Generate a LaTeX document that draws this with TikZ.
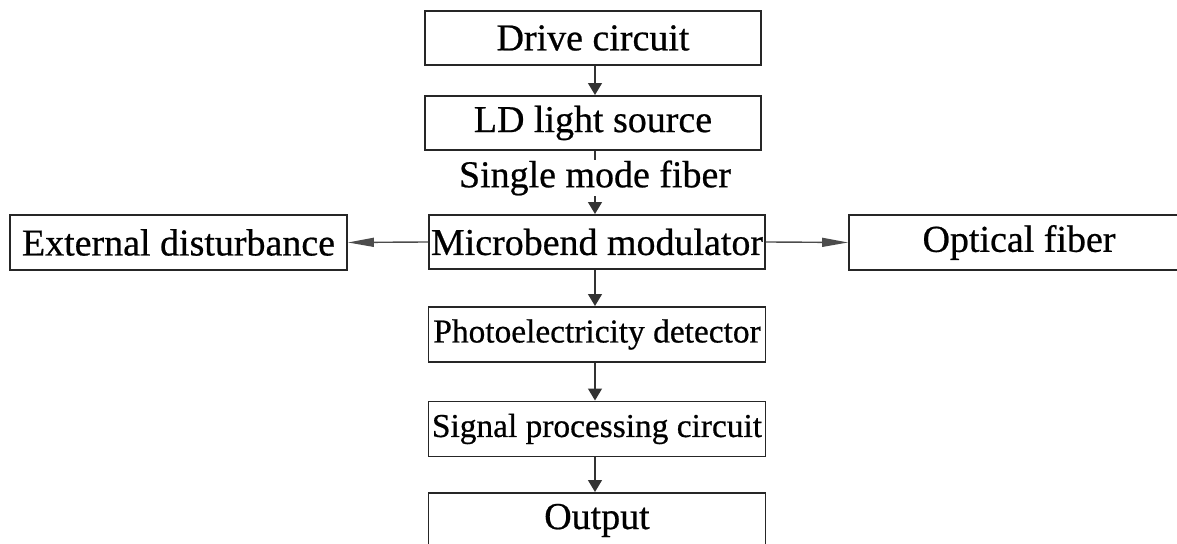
\documentclass[tikz,border=0pt]{standalone}
\usepackage{fontspec}
\setmainfont{Liberation Serif}
\newfontfamily\boxfont{Liberation Serif}[FakeBold=0.6]
\usetikzlibrary{positioning}
\usetikzlibrary{arrows.meta}

\tikzset{
    block/.style={draw=black!85, line width=0.55pt, minimum width=3.36cm, minimum height=0.54cm,
        inner sep=0pt, font=\boxfont\fontsize{10.8}{13}\selectfont},
    smallblock/.style={block, font=\boxfont\fontsize{9.5}{11}\selectfont},
    vflow/.style={draw=black!80, line width=0.4pt, -{Triangle[length=1.2mm,width=1.4mm]}},
    hflow/.style={draw=black!70, line width=0.4pt, -{Triangle[length=2.6mm,width=0.9mm]}}
}

\begin{document}
\begin{tikzpicture}
        \useasboundingbox[fill=white] (0,0) rectangle (11.77,-5.44);
        \node[block] (drive) at (5.93,-0.38) {Drive circuit};
        \node[block] (ld) at (5.93,-1.23) {LD light source};
        \node[inner sep=0pt, font=\boxfont\fontsize{10.8}{13}\selectfont] (smf) at (5.95,-1.78) {Single mode fiber};
        \node[block] (mb) at (5.97,-2.42) {Microbend modulator};
        \node[block, minimum width=3.37cm, minimum height=0.55cm] (ext) at (1.785,-2.425) {External disturbance};
        \node[block, minimum width=3.4cm, minimum height=0.55cm] (opt) at (10.19,-2.425) {Optical fiber};
        \node[smallblock, minimum width=3.37cm, minimum height=0.55cm] (pd) at (5.97,-3.345) {Photoelectricity detector};
        \node[smallblock, minimum width=3.37cm, minimum height=0.55cm] (sp) at (5.97,-4.29) {Signal processing circuit};
        \node[block, minimum width=3.37cm, minimum height=0.55cm] (out) at (5.97,-5.205) {Output};

        \draw[vflow] (drive.south -| smf) -- (ld.north -| smf);
        \draw[draw=black!80, line width=0.4pt] (ld.south -| smf) -- (smf.north);
        \draw[vflow] (smf.south) -- (mb.north -| smf);
        \draw[hflow] (mb.west) -- (ext.east);
        \draw[hflow] (mb.east) -- (opt.west);
        \draw[vflow] (mb.south -| smf) -- (pd.north -| smf);
        \draw[vflow] (pd.south -| smf) -- (sp.north -| smf);
        \draw[vflow] (sp.south -| smf) -- (out.north -| smf);
    \end{tikzpicture}
\end{document}
